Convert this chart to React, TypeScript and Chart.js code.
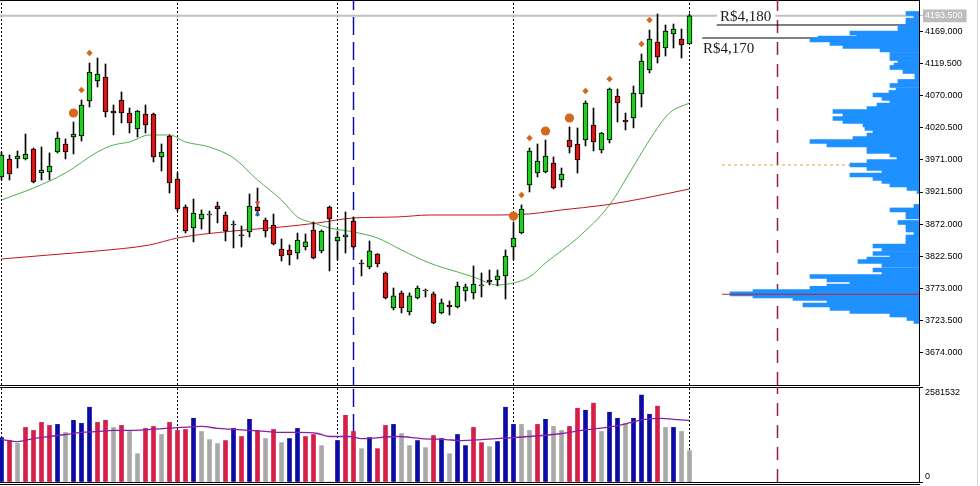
import React, { useEffect, useRef } from "react";
import { Chart, registerables } from "chart.js";

Chart.register(...registerables);

// ---------- data (candle index 0..86) ----------
const OPEN = [3944.7, 3972.5, 3972.5, 3972.5, 3987.9, 3950.9, 3952.4, 3983.3, 3995.7, 4006.5,
  4008.0, 4062.1, 4092.9, 4099.1, 4046.6, 4063.6, 4043.5, 4018.8, 4042.0, 4042.0,
  3975.6, 4008.0, 3941.6, 3898.4, 3866.0, 3879.9, 3886.0, 3899.9, 3886.0, 3872.1,
  3855.2, 3859.8, 3898.4, 3878.3, 3870.6, 3833.5, 3832.0, 3827.4, 3836.6, 3862.9,
  3830.5, 3898.4, 3845.9, 3852.1, 3876.8, 3811.9, 3805.8, 3825.8, 3796.5, 3742.4,
  3765.6, 3736.3, 3757.9, 3768.7, 3764.1, 3734.7, 3747.1, 3744.0, 3768.7, 3765.6,
  3776.4, 3785.7, 3785.7, 3791.9, 3836.6, 3858.2, 3932.4, 3950.9, 3952.4, 3966.3,
  3940.1, 4001.8, 3995.7, 4001.8, 4025.0, 3986.4, 4001.8, 4069.8, 4032.7, 4035.8,
  4072.9, 4109.9, 4153.2, 4143.9, 4165.5, 4157.8, 4150.1];
const HIGH = [3983.3, 3978.7, 3984.9, 4011.1, 3989.5, 3991.0, 3981.8, 4014.2, 4003.4, 4029.6,
  4063.6, 4120.7, 4128.4, 4119.2, 4055.9, 4076.0, 4051.2, 4047.5, 4055.9, 4043.5,
  3995.7, 4009.6, 3950.9, 3901.5, 3910.7, 3893.8, 3892.2, 3906.1, 3890.7, 3876.8,
  3869.1, 3918.5, 3927.7, 3881.4, 3887.6, 3849.0, 3839.7, 3858.2, 3856.7, 3875.2,
  3862.9, 3899.9, 3861.3, 3890.7, 3883.0, 3816.6, 3845.9, 3826.5, 3798.0, 3773.3,
  3768.7, 3765.6, 3776.4, 3771.8, 3767.2, 3756.3, 3753.3, 3782.6, 3779.5, 3807.3,
  3796.5, 3801.1, 3801.1, 3832.0, 3875.2, 3901.5, 3989.5, 3995.7, 4001.8, 3975.6,
  3958.6, 4021.9, 4020.4, 4062.1, 4051.2, 4013.5, 4082.1, 4080.6, 4043.5, 4085.2,
  4134.6, 4171.7, 4196.4, 4179.4, 4180.9, 4173.2, 4196.4];
const LOW = [3940.1, 3940.1, 3958.6, 3971.0, 3935.5, 3940.1, 3940.1, 3981.8, 3972.5, 3980.2,
  4000.3, 4052.8, 4083.7, 4037.4, 4009.6, 4028.1, 4012.6, 4006.5, 4012.6, 3967.9,
  3954.0, 3920.0, 3892.2, 3858.2, 3844.4, 3864.4, 3858.2, 3873.7, 3845.9, 3835.1,
  3836.6, 3852.1, 3884.5, 3852.1, 3839.7, 3815.0, 3808.8, 3818.1, 3832.0, 3818.1,
  3827.4, 3799.6, 3816.6, 3827.4, 3835.1, 3791.9, 3802.7, 3805.8, 3756.3, 3739.4,
  3734.7, 3731.6, 3756.3, 3759.4, 3718.0, 3733.5, 3731.6, 3742.4, 3753.3, 3756.3,
  3759.4, 3778.0, 3776.4, 3756.3, 3816.6, 3857.0, 3921.6, 3944.7, 3950.9, 3926.2,
  3929.3, 3981.8, 3950.9, 3992.6, 3984.9, 3981.8, 3997.2, 4029.6, 4017.3, 4020.4,
  4052.8, 4105.3, 4120.7, 4131.5, 4143.9, 4128.4, 4150.1];
const CLOSE = [3978.7, 3949.3, 3977.1, 3980.2, 3937.0, 3955.5, 3961.7, 4004.9, 3983.3, 4011.1,
  4055.9, 4106.8, 4103.7, 4045.1, 4043.5, 4043.5, 4028.1, 4046.6, 4025.0, 3975.6,
  3983.3, 3935.5, 3895.3, 3861.3, 3889.1, 3887.6, 3887.6, 3895.3, 3861.3, 3870.6,
  3853.6, 3899.9, 3892.2, 3861.3, 3841.3, 3822.7, 3824.3, 3847.4, 3844.4, 3819.6,
  3861.3, 3879.9, 3852.1, 3855.2, 3836.6, 3810.4, 3830.5, 3810.4, 3757.9, 3761.0,
  3742.4, 3761.0, 3773.3, 3770.2, 3719.3, 3750.2, 3744.0, 3776.4, 3774.9, 3779.5,
  3778.0, 3782.6, 3791.9, 3822.7, 3850.5, 3895.3, 3984.9, 3969.4, 3977.1, 3927.7,
  3949.3, 3991.0, 3971.0, 4059.0, 3998.8, 4012.6, 4080.6, 4059.0, 4029.6, 4074.4,
  4123.8, 4157.8, 4130.0, 4170.1, 4173.2, 4148.5, 4193.5];

const VOLUME = [1208000, 1134000, 1052000, 1483000, 1401000, 1620000, 1538000, 1565000, 1346000, 1675000,
  1593000, 2032000, 1620000, 1675000, 1483000, 1538000, 1373000, 769000, 1456000, 1510000,
  1291000, 1620000, 1401000, 1428000, 1730000, 1373000, 1153000, 1044000, 1126000, 1456000,
  1236000, 1703000, 1401000, 1181000, 1428000, 1071000, 1181000, 1456000, 1236000, 1291000,
  989000, 0, 1126000, 1813000, 1373000, 906000, 1208000, 906000, 1538000, 1565000,
  1318000, 989000, 1126000, 934000, 1263000, 1181000, 769000, 1291000, 989000, 1483000,
  1071000, 961000, 1099000, 2032000, 1565000, 1565000, 1401000, 1565000, 1703000, 1510000,
  1401000, 1510000, 2005000, 1950000, 2142000, 1373000, 1895000, 1730000, 1593000, 1730000,
  2362000, 1840000, 2060000, 1483000, 1483000, 1373000, 851000];
// b = blue, r = red, g = grey
const VOLUME_TONE = ("brgrrrrbgb" + "bbrrgrggrr" + "grrrbgggrb" + "rbrgrgbbrr" + "g-brrgbrrb" +
  "ggbgrbgbbr" + "rgbbbggrbg" + "grrbrgbbgb" + "bbrgbgg").split("");

const MA_FAST_X = [0, 4, 8, 12, 14, 16, 18.5, 21, 23, 26, 29, 32, 35, 37, 39, 41, 44, 47, 50, 53.5, 57, 59, 62, 64, 66, 68, 72, 76, 78.5, 81, 83.5, 86];
const MA_FAST_Y = [3909.2, 3927.7, 3950.9, 3983.3, 3994.1, 3998.8, 4009.6, 4009.6, 3998.8, 3991.0, 3974.1, 3940.1, 3909.2, 3883.0, 3873.7, 3866.0, 3859.8, 3850.5, 3832.0, 3811.9, 3798.0, 3790.3, 3778.0, 3781.1, 3790.3, 3811.9, 3850.5, 3901.5, 3950.9, 4001.8, 4043.5, 4059.0];
const MA_SLOW_X = [0, 6, 12, 18.5, 22, 29, 35, 39.5, 44, 49.5, 53.5, 62, 66, 70, 75.5, 80.5, 86];
const MA_SLOW_Y = [3818.1, 3824.3, 3830.5, 3839.7, 3850.5, 3861.3, 3867.5, 3873.7, 3881.4, 3883.0, 3886.0, 3886.0, 3887.6, 3893.8, 3901.5, 3912.3, 3926.2];

const VOL_MA_X = [0, 2, 4, 6, 8, 10, 12, 14, 16, 18.5, 20.5, 22.5, 25, 27, 29, 31, 33, 35, 37, 39.5, 41, 43.5, 45, 49.5, 52.5, 55.5, 57.5, 60, 64, 66, 70, 72.5, 76.5, 80.5, 82.5, 84, 86];
const VOL_MA_Y = [1153000, 1099000, 1181000, 1236000, 1291000, 1346000, 1373000, 1401000, 1401000, 1428000, 1456000, 1483000, 1510000, 1456000, 1428000, 1401000, 1373000, 1346000, 1346000, 1318000, 1236000, 1236000, 1181000, 1236000, 1181000, 1153000, 1126000, 1153000, 1208000, 1236000, 1318000, 1401000, 1510000, 1703000, 1730000, 1703000, 1675000];

const DIAMOND_X = [10, 11, 65, 66, 73, 76, 80, 81];
const DIAMOND_Y = [4079.0, 4136.2, 3917.0, 4004.9, 4077.5, 4096.0, 4150.1, 4187.1];
const CIRCLE_X = [9, 64, 68, 71];
const CIRCLE_Y = [4043.5, 3884.5, 4015.7, 4035.8];
const SELL_ARROW = { x: 32, y: 3904.6 };
const BUY_ARROW = { x: 32, y: 3887.6 };

// volume-at-price profile
const PROFILE_PRICE = [4197.2, 4192.5, 4187.0, 4181.7, 4176.3, 4170.9, 4167.0, 4164.0, 4159.3, 4156.2,
  4150.8, 4146.2, 4140.8, 4133.9, 4127.7, 4121.5, 4117.6, 4113.8, 4107.6, 4101.4,
  4096.8, 4092.2, 4086.0, 4079.0, 4075.2, 4071.3, 4065.9, 4061.3, 4055.9, 4050.5,
  4045.8, 4040.4, 4035.0, 4030.4, 4025.0, 4019.6, 4015.0, 4009.6, 4004.2, 3999.5,
  3994.1, 3988.7, 3984.1, 3978.7, 3973.3, 3968.6, 3963.2, 3957.8, 3953.2, 3947.8,
  3942.4, 3937.8, 3932.4, 3927.0, 3922.3, 3899.2, 3893.8, 3888.4, 3883.0, 3874.5,
  3868.3, 3862.9, 3857.5, 3852.1, 3846.7, 3841.3, 3838.2, 3832.8, 3826.6, 3822.0,
  3818.1, 3814.2, 3808.1, 3801.1, 3795.7, 3791.1, 3785.7, 3780.3, 3776.4, 3772.6,
  3767.9, 3764.1, 3761.0, 3757.1, 3752.5, 3747.1, 3741.7, 3737.1, 3731.6, 3726.2, 3721.6];
const PROFILE_VOL = [13, 5, 13, 13, 21, 21, 69, 62, 101, 109,
  89, 76, 39, 29, 29, 21, 25, 29, 16, 4,
  4, 21, 29, 23, 30, 46, 37, 29, 42, 52,
  86, 76, 86, 76, 56, 54, 46, 52, 66, 109,
  92, 52, 52, 29, 22, 52, 69, 52, 37, 69,
  46, 37, 29, 12, 2, 5, 29, 13, 13, 21,
  13, 13, 5, 13, 13, 13, 46, 37, 46, 29,
  52, 61, 37, 46, 37, 109, 92, 69, 92, 109,
  166, 189, 166, 126, 92, 116, 89, 69, 29, 12, 5];
const POC_PRICE = 3763.6;
const POC_REACH = 197;

const PRICE_TICKS = [4193.5, 4169, 4119.5, 4070, 4020.5, 3971, 3921.5, 3872, 3822.5, 3773, 3723.5, 3674];
const LAST_PRICE = 4193.5;
const VOL_MAX = 2581532;

const SESSION_LINES = [0, 22, 42, 64, 86];
const BLUE_LINE = 44;
const CRIMSON_LINE = 97;

const LEVEL_PRICES = [4179.4, 4159.3];
const LEVEL_START = [89.4, 87.6];
const ORANGE_LEVEL = 3963.2;
const ORANGE_START = 90.06;

const TAG_TEXT = ["R$4,180", "R$4,170"];
const TAG_X = [89.81, 87.69];
const TAG_Y = [4185.6, 4136.2];

// ---------- layout constants ----------
const X_MIN = -0.1875;
const X_MAX = 114.6875;
const P_MIN = 3623.5;
const P_MAX = 4218;
const AXIS_W = 61;

const GREEN = "#1fcf1f";
const RED = "#dc1414";
const MARK = "#d2691e";
const TONE_COLOR: Record<string, string> = { b: "#0b0ba6", r: "#d61f48", g: "#a9a9a9", "-": "#a9a9a9" };
const FONT = { family: "'Liberation Sans', Arial, sans-serif", size: 9 };

const INDEX = OPEN.map((_, i) => i);

function hAxis(position: string, extra: any = {}) {
  return {
    type: "linear", axis: "x", position, min: X_MIN, max: X_MAX, offset: false,
    ticks: { display: false }, grid: { display: false, drawTicks: false },
    border: { display: true, color: "#000", width: 1 }, ...extra,
  };
}

function vLine(x: number, yMin: number, yMax: number, color: string, dash: number[], width = 1) {
  return {
    type: "line", data: [{ x, y: yMin }, { x, y: yMax }], borderColor: color, borderWidth: width,
    borderDash: dash, pointRadius: 0, order: 40,
  };
}

function hLine(y: number, x0: number, x1: number, color: string, width: number, dash: number[] = [], order = 35) {
  return {
    type: "line", data: [{ x: x0, y }, { x: x1, y }], borderColor: color, borderWidth: width,
    borderDash: dash, pointRadius: 0, order,
  };
}

const tagPlugin = {
  id: "priceTags",
  afterDatasetsDraw(chart: any) {
    const { ctx, scales } = chart;
    ctx.save();
    ctx.font = "15px 'Liberation Serif', 'Times New Roman', serif";
    ctx.textBaseline = "alphabetic";
    TAG_TEXT.forEach((t, k) => {
      const px = scales.x.getPixelForValue(TAG_X[k]);
      const py = scales.y.getPixelForValue(TAG_Y[k]);
      const w = ctx.measureText(t).width;
      ctx.fillStyle = "#ffffff";
      ctx.fillRect(px - 3, py - 12, w + 7, 14);
      ctx.fillStyle = "#1a1a1a";
      ctx.fillText(t, px, py);
    });
    ctx.restore();
  },
};

function mainConfig(): any {
  const datasets: any[] = [];
  SESSION_LINES.forEach((x) => datasets.push(vLine(x, P_MIN, P_MAX, "#000", [2, 2])));
  datasets.push(vLine(BLUE_LINE, P_MIN, P_MAX, "#12129c", [18, 7], 1.5));
  datasets.push(vLine(CRIMSON_LINE, P_MIN, P_MAX, "#9e1b42", [13, 9], 1.5));
  datasets.push(hLine(LAST_PRICE, X_MIN, X_MAX, "#c0c0c0", 2));
  LEVEL_PRICES.forEach((p, k) => datasets.push(hLine(p, LEVEL_START[k], X_MAX, "#000", 1)));
  datasets.push(hLine(ORANGE_LEVEL, ORANGE_START, X_MAX, "#e0a040", 1, [3, 3]));
  datasets.push({
    type: "line", data: MA_SLOW_X.map((x, k) => ({ x, y: MA_SLOW_Y[k] })), borderColor: "#c0141e",
    borderWidth: 1, pointRadius: 0, cubicInterpolationMode: "monotone", order: 20,
  });
  datasets.push({
    type: "line", data: MA_FAST_X.map((x, k) => ({ x, y: MA_FAST_Y[k] })), borderColor: "#4cb04c",
    borderWidth: 1, pointRadius: 0, cubicInterpolationMode: "monotone", order: 20,
  });
  datasets.push({
    type: "bar", data: INDEX.map((i) => ({ x: i, y: [LOW[i], HIGH[i]] })), backgroundColor: "#000",
    borderWidth: 0, barThickness: 1, stack: "c", order: 10,
  });
  datasets.push({
    type: "bar", data: INDEX.map((i) => ({ x: i, y: [OPEN[i], CLOSE[i]] })),
    backgroundColor: INDEX.map((i) => (CLOSE[i] >= OPEN[i] ? GREEN : RED)),
    borderColor: "#000", borderWidth: 1, borderSkipped: false, barThickness: 5, stack: "c", order: 9,
  });
  datasets.push({
    type: "line", data: DIAMOND_X.map((x, k) => ({ x, y: DIAMOND_Y[k] })), showLine: false,
    pointStyle: "rectRot", pointRadius: 3.2, backgroundColor: MARK, borderColor: MARK, borderWidth: 0, order: 1,
  });
  datasets.push({
    type: "line", data: CIRCLE_X.map((x, k) => ({ x, y: CIRCLE_Y[k] })), showLine: false,
    pointStyle: "circle", pointRadius: 4.6, backgroundColor: MARK, borderColor: MARK, borderWidth: 0, order: 1,
  });
  datasets.push({
    type: "line", data: [SELL_ARROW], showLine: false, pointStyle: "triangle", rotation: 180,
    pointRadius: 3, backgroundColor: "#e04a20", borderColor: "#e04a20", borderWidth: 0, order: 1,
  });
  datasets.push({
    type: "line", data: [BUY_ARROW], showLine: false, pointStyle: "triangle",
    pointRadius: 3, backgroundColor: "#1a66c0", borderColor: "#1a66c0", borderWidth: 0, order: 1,
  });

  return {
    type: "bar",
    data: { datasets },
    plugins: [tagPlugin],
    options: {
      responsive: false, animation: false, devicePixelRatio: 1,
      layout: { autoPadding: false, padding: { top: 0, left: 0, right: 0, bottom: 1 } },
      plugins: { legend: { display: false }, tooltip: { enabled: false } },
      scales: {
        x: hAxis("bottom"),
        xt: hAxis("top"),
        y: {
          type: "linear", position: "right", min: P_MIN, max: P_MAX, stacked: false, offset: false,
          afterBuildTicks: (s: any) => { s.ticks = PRICE_TICKS.map((v) => ({ value: v })); },
          afterFit: (s: any) => { s.width = AXIS_W; s.paddingTop = 0; s.paddingBottom = 0; },
          ticks: {
            autoSkip: false, padding: 2, font: FONT,
            color: (c: any) => (c.tick && c.tick.value === LAST_PRICE ? "#ffffff" : "#000000"),
            callback: (v: any) => Number(v).toFixed(3),
            showLabelBackdrop: true,
            backdropColor: (c: any) => (c.tick && c.tick.value === LAST_PRICE ? "#bdbdbd" : "rgba(0,0,0,0)"),
            backdropPadding: { top: 1, bottom: 1, left: 2, right: 4 },
          },
          grid: {
            drawOnChartArea: false, drawTicks: true, tickLength: 4,
            tickColor: (c: any) => (c.tick && c.tick.value === LAST_PRICE ? "#bdbdbd" : "#000"),
            color: "#000",
          },
          border: { display: true, color: "#000", width: 1 },
        },
      },
    },
  };
}

function profileConfig(): any {
  return {
    type: "bar",
    data: {
      datasets: [
        {
          type: "line", indexAxis: "x", data: [{ x: POC_REACH, y: POC_PRICE }, { x: 0, y: POC_PRICE }],
          borderColor: "#c81e28", borderWidth: 1, pointRadius: 0, order: 1,
        },
        {
          type: "bar", data: PROFILE_PRICE.map((p, k) => ({ x: PROFILE_VOL[k], y: p })),
          backgroundColor: "#1e90ff", borderWidth: 0, barThickness: 4, order: 2,
        },
      ],
    },
    options: {
      indexAxis: "y",
      responsive: false, animation: false, devicePixelRatio: 1,
      layout: { autoPadding: false, padding: { top: 0, left: 0, right: AXIS_W, bottom: 1 } },
      plugins: { legend: { display: false }, tooltip: { enabled: false } },
      scales: {
        x: { type: "linear", min: 0, max: 919, reverse: true, display: false, offset: false },
        y: { type: "linear", min: P_MIN, max: P_MAX, display: false, offset: false },
      },
    },
  };
}

function volumeConfig(): any {
  const datasets: any[] = [];
  SESSION_LINES.forEach((x) => datasets.push(vLine(x, 0, VOL_MAX, "#000", [2, 2])));
  datasets.push(vLine(BLUE_LINE, 0, VOL_MAX, "#12129c", [18, 7], 1.5));
  datasets.push(vLine(CRIMSON_LINE, 0, VOL_MAX, "#9e1b42", [13, 9], 1.5));
  datasets.push({
    type: "bar", data: INDEX.map((i) => ({ x: i, y: VOLUME[i] })),
    backgroundColor: INDEX.map((i) => TONE_COLOR[VOLUME_TONE[i]]), borderWidth: 0, barThickness: 4, order: 10,
  });
  datasets.push({
    type: "line", data: VOL_MA_X.map((x, k) => ({ x, y: VOL_MA_Y[k] })), borderColor: "#8a1fa6",
    borderWidth: 1.3, pointRadius: 0, cubicInterpolationMode: "monotone", order: 2,
  });
  return {
    type: "bar",
    data: { datasets },
    options: {
      responsive: false, animation: false, devicePixelRatio: 1,
      layout: { autoPadding: false, padding: { top: 1, left: 0, right: 0, bottom: 2 } },
      plugins: { legend: { display: false }, tooltip: { enabled: false } },
      scales: {
        xt: hAxis("top"),
        x: hAxis("bottom", { afterFit: (s: any) => { s.height = 2; } }),
        xb2: hAxis("bottom"),
        y: {
          type: "linear", position: "right", min: 0, max: VOL_MAX, offset: false,
          afterBuildTicks: (s: any) => { s.ticks = [{ value: VOL_MAX }, { value: 0 }]; },
          afterFit: (s: any) => { s.width = AXIS_W; s.paddingTop = 0; s.paddingBottom = 0; },
          ticks: {
            autoSkip: false, padding: 2, font: FONT, color: "#000",
            callback: (v: any) => (Number(v) === VOL_MAX ? ["", String(VOL_MAX)] : ["0", ""]),
          },
          grid: { drawOnChartArea: false, drawTicks: true, tickLength: 4, tickColor: "#000" },
          border: { display: true, color: "#000", width: 1 },
        },
      },
    },
  };
}

export default function App() {
  const mainRef = useRef<HTMLCanvasElement>(null);
  const profRef = useRef<HTMLCanvasElement>(null);
  const volRef = useRef<HTMLCanvasElement>(null);

  useEffect(() => {
    const charts: Chart[] = [];
    if (mainRef.current) charts.push(new Chart(mainRef.current, mainConfig()));
    if (profRef.current) charts.push(new Chart(profRef.current, profileConfig()));
    if (volRef.current) charts.push(new Chart(volRef.current, volumeConfig()));
    return () => charts.forEach((c) => c.destroy());
  }, []);

  return (
    <div style={{ position: "fixed", left: 0, top: 0, width: 980, height: 486, background: "#fff", overflow: "hidden" }}>
      <canvas ref={mainRef} width={980} height={386} style={{ position: "absolute", left: 0, top: 0 }} />
      <canvas ref={profRef} width={980} height={386} style={{ position: "absolute", left: 0, top: 0, pointerEvents: "none" }} />
      <canvas ref={volRef} width={980} height={100} style={{ position: "absolute", left: 0, top: 386 }} />
      <div style={{ position: "absolute", left: 977, top: 0, width: 1, height: 486, background: "#d8d8d8" }} />
    </div>
  );
}
